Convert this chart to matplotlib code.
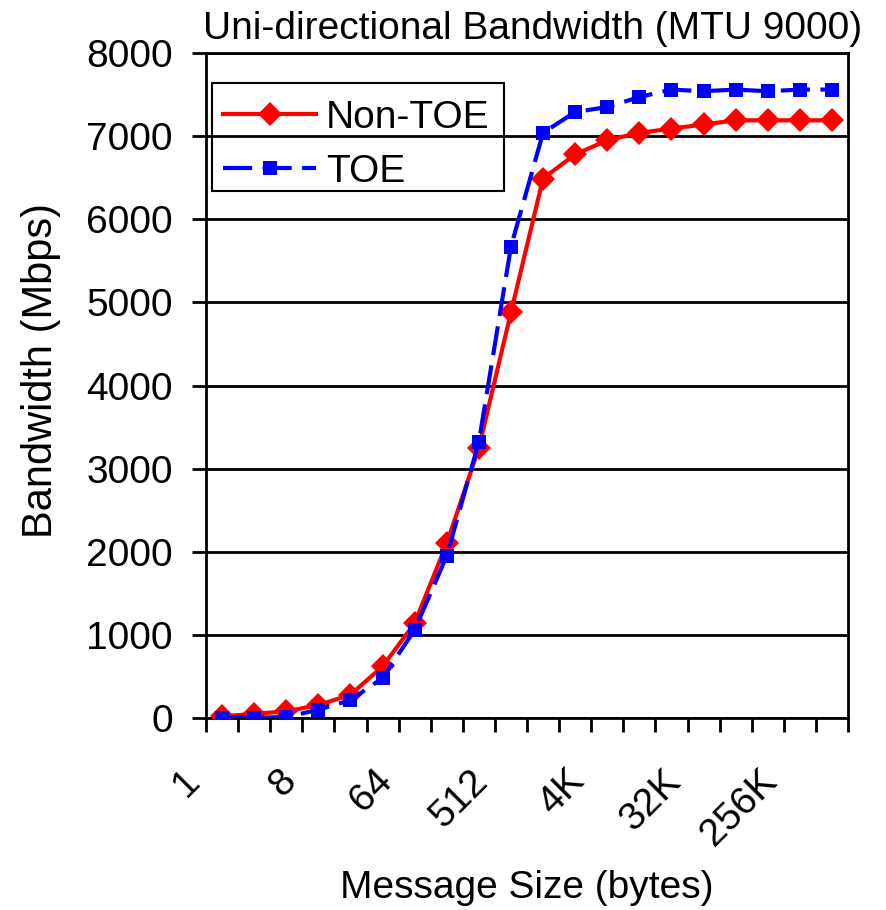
import numpy as np
import matplotlib
matplotlib.use("Agg")
import matplotlib.pyplot as plt
import matplotlib.transforms as mtransforms
from matplotlib import font_manager
from matplotlib.lines import Line2D
from matplotlib.patches import Rectangle

# message sizes 1 B .. 512 KB
sizes = ["1", "2", "4", "8", "16", "32", "64", "128", "256", "512",
         "1K", "2K", "4K", "8K", "16K", "32K", "64K", "128K", "256K", "512K"]
non_toe = [20, 50, 80, 155, 280, 620, 1140, 2100, 3250, 4880,
           6490, 6780, 6950, 7040, 7090, 7140, 7190, 7190, 7190, 7190]
toe = [5, 5, 10, 100, 215, 480, 1060, 1950, 3320, 5670,
       7040, 7290, 7350, 7470, 7560, 7540, 7560, 7540, 7560, 7560]
shown = ["1", "8", "64", "512", "4K", "32K", "256K"]

names = {f.name for f in font_manager.fontManager.ttflist}
plt.rcParams["font.family"] = "Liberation Sans" if "Liberation Sans" in names else "DejaVu Sans"
FS = 28

fig = plt.figure(figsize=(8.86, 9.10), dpi=100)
ax = fig.add_axes([206/886, 1-718/910, (848-206)/886, (718-53)/910])

red_style = dict(color="#ff0000", lw=3, marker="D", ms=12.5, mew=0)
blue_style = dict(color="#0000ff", lw=3, ls=(0, (7, 2.5)), marker="s", ms=9.5, mew=0)

x = np.arange(len(sizes))
ax.plot(x, non_toe, zorder=3, **red_style)
ax.plot(x, toe, zorder=4, **blue_style)

ax.set_xlim(-0.5, len(sizes) - 0.5)
ax.set_ylim(0, 8000)
ax.set_yticks(np.arange(0, 8001, 1000))
ax.yaxis.grid(True, color="black", lw=2)
ax.set_axisbelow(True)
for s in ax.spines.values():
    s.set_linewidth(2)
ax.tick_params(axis="y", labelsize=FS, length=10, width=2, direction="out", pad=14)

# ticks on category boundaries
ax.set_xticks(np.arange(-0.5, len(sizes), 1.0))
ax.set_xticklabels([])
ax.tick_params(axis="x", length=10, width=2, direction="out")

# rotated category labels, every third size
off = mtransforms.ScaledTranslation(-41/100, -45/100, fig.dpi_scale_trans)
tr = mtransforms.blended_transform_factory(ax.transData, ax.transAxes) + off
for s in shown:
    ax.text(sizes.index(s), 0, s, transform=tr, rotation=45, ha="right",
            va="top", rotation_mode="anchor", fontsize=FS)

ax.set_title("Uni-directional Bandwidth (MTU 9000)", fontsize=FS, x=0.509, pad=10)
ax.set_ylabel("Bandwidth (Mbps)", fontsize=30)
ax.yaxis.set_label_coords(-0.226, 0.523)
ax.set_xlabel("Message Size (bytes)", fontsize=FS)
ax.xaxis.set_label_coords(0.5, -0.228)

# legend entries without frame, box drawn separately
handles = [Line2D([], [], **red_style), Line2D([], [], **blue_style)]
ax.legend(handles, ["Non-TOE", "TOE"], loc="upper left",
          bbox_to_anchor=(17/642, 1-47/665), fontsize=FS, frameon=False,
          handlelength=2.4, borderaxespad=0, borderpad=0,
          labelspacing=0.46, handletextpad=0.25)
ax.add_patch(Rectangle((6/642, 1-138/665), 292/642, 108/665,
                       transform=ax.transAxes, fill=False, ec="black",
                       lw=1.5, zorder=5))

fig.savefig("out.png", dpi=100)
